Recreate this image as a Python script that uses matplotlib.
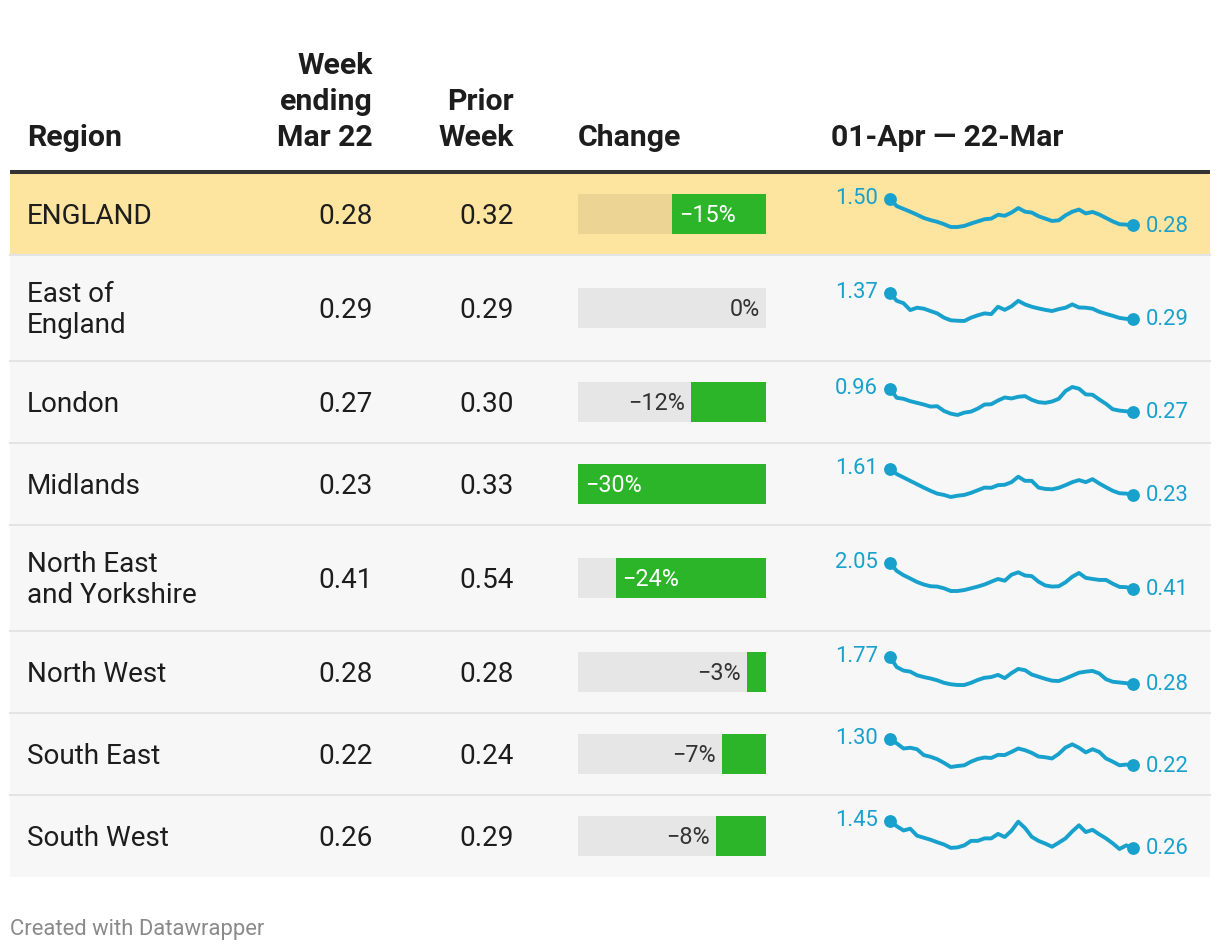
import matplotlib.pyplot as plt
from matplotlib.patches import Rectangle

plt.rcParams['font.family'] = ['Roboto', 'DejaVu Sans']

# table data
regions = ['ENGLAND', 'East of\nEngland', 'London', 'Midlands',
           'North East\nand Yorkshire', 'North West', 'South East', 'South West']
week_ending = [0.28, 0.29, 0.27, 0.23, 0.41, 0.28, 0.22, 0.26]
prior_week = [0.32, 0.29, 0.30, 0.33, 0.54, 0.28, 0.24, 0.29]
change_pct = [-15, 0, -12, -30, -24, -3, -7, -8]

# sparkline samples, roughly every 10 days from 01-Apr to 22-Mar
spark_x = list(range(37))
spark_england = [1.50, 1.17, 1.04, 0.91, 0.77, 0.62, 0.52, 0.44, 0.33, 0.20, 0.20, 0.25, 0.36,
                 0.46, 0.56, 0.59, 0.77, 0.72, 0.87, 1.08, 0.91, 0.87, 0.70, 0.59, 0.48, 0.51,
                 0.74, 0.91, 1.01, 0.83, 0.90, 0.78, 0.62, 0.46, 0.33, 0.31, 0.28]
spark_east = [1.37, 1.04, 0.94, 0.65, 0.75, 0.71, 0.61, 0.51, 0.33, 0.22, 0.20, 0.19, 0.33,
              0.43, 0.51, 0.48, 0.79, 0.66, 0.81, 1.04, 0.89, 0.79, 0.72, 0.66, 0.61, 0.69,
              0.75, 0.89, 0.76, 0.75, 0.71, 0.58, 0.49, 0.41, 0.32, 0.28, 0.29]
spark_london = [0.96, 0.69, 0.66, 0.59, 0.54, 0.49, 0.43, 0.44, 0.30, 0.22, 0.18, 0.25, 0.28,
                0.37, 0.49, 0.50, 0.61, 0.70, 0.67, 0.72, 0.74, 0.63, 0.56, 0.54, 0.58, 0.66,
                0.89, 1.01, 0.96, 0.79, 0.78, 0.64, 0.51, 0.35, 0.31, 0.29, 0.27]
spark_midlands = [1.61, 1.34, 1.16, 0.98, 0.80, 0.62, 0.45, 0.30, 0.23, 0.12, 0.19, 0.23, 0.34,
                  0.48, 0.62, 0.61, 0.75, 0.77, 0.91, 1.20, 0.98, 0.98, 0.62, 0.55, 0.53, 0.61,
                  0.75, 0.91, 1.02, 0.91, 1.07, 0.84, 0.64, 0.45, 0.32, 0.30, 0.23]
spark_ney = [2.05, 1.55, 1.28, 1.07, 0.85, 0.69, 0.58, 0.56, 0.45, 0.28, 0.28, 0.34, 0.45,
             0.56, 0.69, 0.87, 1.04, 0.93, 1.31, 1.46, 1.26, 1.22, 0.87, 0.63, 0.56, 0.58,
             0.83, 1.18, 1.42, 1.11, 1.04, 0.98, 0.98, 0.74, 0.54, 0.52, 0.41]
spark_nw = [1.77, 1.21, 1.02, 0.96, 0.76, 0.66, 0.58, 0.48, 0.34, 0.26, 0.22, 0.22, 0.34,
            0.50, 0.62, 0.66, 0.78, 0.60, 0.88, 1.11, 1.04, 0.80, 0.68, 0.56, 0.46, 0.44,
            0.58, 0.74, 0.90, 0.96, 1.00, 0.86, 0.54, 0.40, 0.36, 0.32, 0.28]
spark_se = [1.30, 1.12, 0.91, 0.94, 0.88, 0.64, 0.57, 0.47, 0.32, 0.15, 0.19, 0.22, 0.37,
            0.48, 0.54, 0.52, 0.65, 0.64, 0.77, 0.91, 0.84, 0.73, 0.58, 0.55, 0.50, 0.69,
            0.95, 1.08, 0.94, 0.75, 0.88, 0.77, 0.50, 0.37, 0.22, 0.25, 0.22]
spark_sw = [1.45, 1.22, 1.03, 1.11, 0.80, 0.71, 0.62, 0.51, 0.41, 0.26, 0.28, 0.37, 0.57,
            0.57, 0.68, 0.68, 0.88, 0.74, 1.02, 1.42, 1.14, 0.75, 0.57, 0.45, 0.31, 0.49,
            0.68, 0.99, 1.26, 0.96, 1.06, 0.86, 0.68, 0.46, 0.21, 0.37, 0.26]
spark_series = [spark_england, spark_east, spark_london, spark_midlands,
                spark_ney, spark_nw, spark_se, spark_sw]

W, H = 1220, 952
fig = plt.figure(figsize=(W / 100, H / 100), dpi=100)
fig.patch.set_facecolor('white')
ax = fig.add_axes([0, 0, 1, 1])
ax.set_xlim(0, W)
ax.set_ylim(H, 0)
ax.axis('off')


def px_rect(x, y, w, h):
    return [x / W, 1 - (y + h) / H, w / W, h / H]


text_col = '#1d1d1d'
spark_col = '#18a1cd'
green = '#2db52a'

# header
hdr = dict(fontsize=21.8, fontweight='bold', color=text_col, va='baseline')
ax.text(27, 146, 'Region', ha='left', **hdr)
for txt, y in zip(['Week', 'ending', 'Mar 22'], [74, 110, 146]):
    ax.text(373, y, txt, ha='right', **hdr)
for txt, y in zip(['Prior', 'Week'], [110, 146]):
    ax.text(514, y, txt, ha='right', **hdr)
ax.text(578, 146, 'Change', ha='left', **hdr)
ax.text(831, 146, '01-Apr \u2014 22-Mar', ha='left', **hdr)

# row boundaries
bounds = [173, 255, 361, 443, 525, 631, 713, 795, 877]

for i in range(len(regions)):
    top, bot = bounds[i], bounds[i + 1]
    c = (top + bot) / 2
    highlight = i == 0
    bg = '#fde49f' if highlight else '#f7f7f7'
    ax.add_patch(Rectangle((10, top), 1200, bot - top, color=bg, zorder=0, lw=0))
    if i > 0:
        ax.plot([10, 1210], [top, top], color='#e4e4e4', lw=1.5, zorder=1)

    ax.text(27, c + 2, regions[i], ha='left', va='center', fontsize=20.1,
            color=text_col, linespacing=1.22)
    ax.text(373, c + 2, f'{week_ending[i]:.2f}', ha='right', va='center', fontsize=20.1, color=text_col)
    ax.text(514, c + 2, f'{prior_week[i]:.2f}', ha='right', va='center', fontsize=20.1, color=text_col)

    # change bar
    axc = fig.add_axes(px_rect(578, c - 20, 188, 40))
    axc.barh(0, -30, height=1, color='#ecd594' if highlight else '#e6e6e6', lw=0)
    v = change_pct[i]
    axc.barh(0, v, height=1, color=green, lw=0)
    axc.set_xlim(-30, 0)
    axc.set_ylim(-0.5, 0.5)
    axc.axis('off')
    lab = f'\u2212{abs(v)}%' if v < 0 else f'{v}%'
    if v <= -15:
        axc.annotate(lab, (max(v, -30), 0), xytext=(7, -1), textcoords='offset pixels',
                     ha='left', va='center', fontsize=16.8, color='white')
    else:
        axc.annotate(lab, (v, 0), xytext=(-6, -1), textcoords='offset pixels',
                     ha='right', va='center', fontsize=16.8, color='#333333')

    # sparkline
    vals = spark_series[i]
    axs = fig.add_axes(px_rect(890, c - 15, 243, 28))
    axs.patch.set_alpha(0)
    axs.plot(spark_x, vals, color=spark_col, lw=2.8, clip_on=False, solid_joinstyle='round')
    axs.plot([spark_x[0], spark_x[-1]], [vals[0], vals[-1]], 'o', color=spark_col,
             ms=8.2, clip_on=False)
    axs.set_xlim(spark_x[0], spark_x[-1])
    axs.set_ylim(min(vals), max(vals))
    axs.axis('off')
    axs.annotate(f'{vals[0]:.2f}', (spark_x[0], vals[0]), xytext=(-12, 0),
                 textcoords='offset pixels', ha='right', va='center', fontsize=15.8, color=spark_col)
    axs.annotate(f'{vals[-1]:.2f}', (spark_x[-1], vals[-1]), xytext=(13, -1),
                 textcoords='offset pixels', ha='left', va='center', fontsize=15.8, color=spark_col)

# header rule
ax.plot([10, 1210], [172, 172], color='#333333', lw=2.9, zorder=3, solid_capstyle='butt')

ax.text(10, 930, 'Created with Datawrapper', ha='left', va='center', fontsize=15.8, color='#8a8a8a')

plt.savefig('out.png', dpi=100)
